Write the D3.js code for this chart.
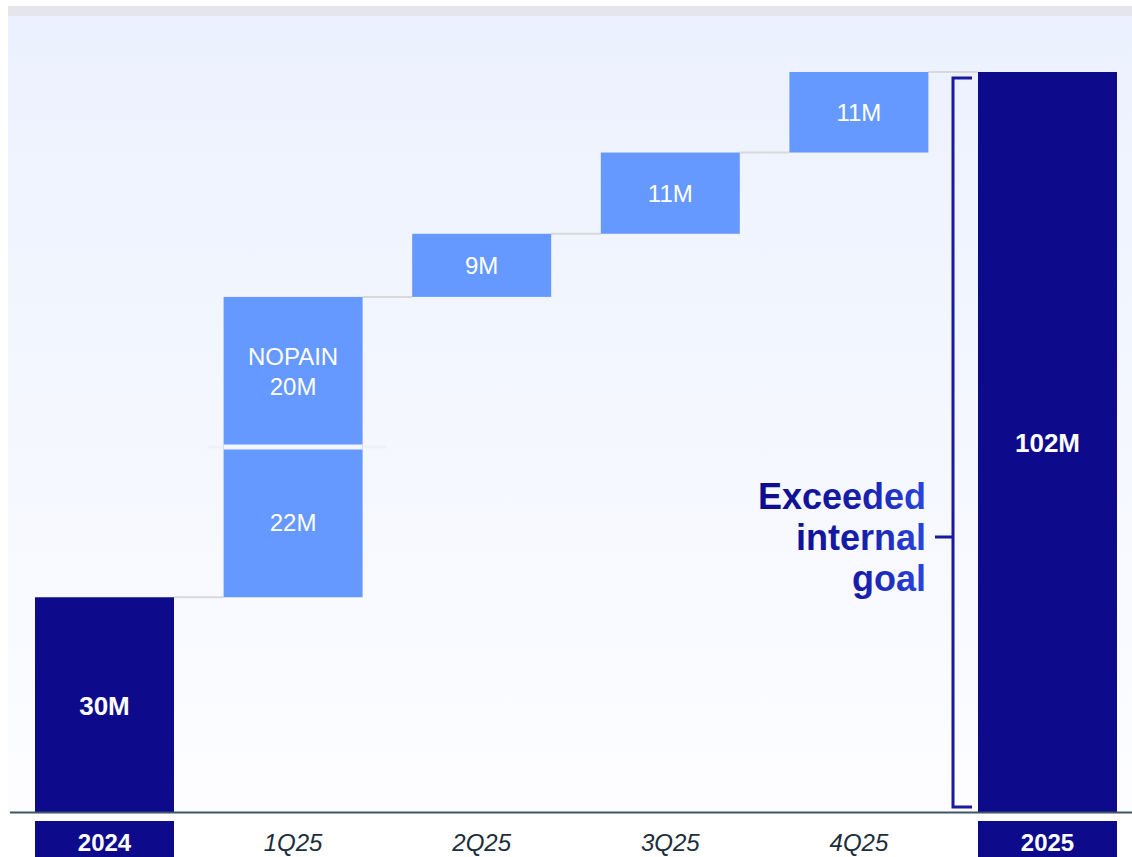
<!DOCTYPE html>
<html>
<head>
<meta charset="utf-8">
<script src="https://cdn.jsdelivr.net/npm/d3@7"></script>
<style>
  html, body { margin: 0; padding: 0; background: #fff; }
  svg { display: block; font-family: Arial, "Liberation Sans", sans-serif; }
</style>
</head>
<body>
<svg id="chart" width="1132" height="857"></svg>
<script>
(function() {
  'use strict';

  // 데이터
  const categories = ['2024', '1Q25', '2Q25', '3Q25', '4Q25', '2025'];
  const totalCats = ['2024', '2025'];
  // 단계별 증가분 (그림에서 읽은 높이 기준)
  const stepCats = ['1Q25', '1Q25', '2Q25', '3Q25', '4Q25'];
  const stepValues = [20.7, 20.7, 8.7, 11.2, 11.1];
  const stepLabels = [['22M'], ['NOPAIN', '20M'], ['9M'], ['11M'], ['11M']];
  const totalValues = [29.6, 102];
  const totalLabels = ['30M', '102M'];
  const noteLines = ['Exceeded', 'internal', 'goal'];

  const W = 1132, H = 857;
  const baseY = 812;
  const navy = '#0d0b8c';
  const light = '#6699ff';

  const svg = d3.select('#chart');

  // 배경 그라데이션
  const defs = svg.append('defs');
  const bg = defs.append('linearGradient').attr('id', 'bg')
    .attr('x1', 0).attr('y1', 0).attr('x2', 0).attr('y2', 1);
  bg.append('stop').attr('offset', '0%').attr('stop-color', '#ebf1fe');
  bg.append('stop').attr('offset', '100%').attr('stop-color', '#fdfdff');

  const tg = defs.append('linearGradient').attr('id', 'txt')
    .attr('x1', 0).attr('y1', 0).attr('x2', 1).attr('y2', 0);
  tg.append('stop').attr('offset', '0%').attr('stop-color', '#0d0b8c');
  tg.append('stop').attr('offset', '60%').attr('stop-color', '#161ea8');
  tg.append('stop').attr('offset', '100%').attr('stop-color', '#2a46de');

  svg.append('rect').attr('x', 8).attr('y', 6).attr('width', W - 8).attr('height', 10)
    .attr('fill', '#e5e5ec');
  svg.append('rect').attr('x', 8).attr('y', 16).attr('width', W - 8).attr('height', baseY - 16)
    .attr('fill', 'url(#bg)');

  // 스케일
  const x = d3.scaleBand().domain(categories).range([35, 1117])
    .paddingInner(0.263).paddingOuter(0);
  const y = d3.scaleLinear().domain([0, 102]).range([baseY, 72]);

  // 누적 계산
  let acc = totalValues[0];
  const steps = stepValues.map((v, i) => {
    const s = { cat: stepCats[i], start: acc, end: acc + v, label: stepLabels[i] };
    acc += v;
    return s;
  });

  // 연결선
  const connectors = [];
  connectors.push({ from: '2024', to: steps[0].cat, v: steps[0].start });
  steps.forEach((s, i) => {
    const next = i < steps.length - 1 ? steps[i + 1] : null;
    if (next && next.cat === s.cat) return;
    connectors.push({ from: s.cat, to: next ? next.cat : '2025', v: s.end });
  });
  svg.selectAll('.conn').data(connectors).enter().append('line')
    .attr('x1', d => x(d.from) + x.bandwidth())
    .attr('x2', d => x(d.to))
    .attr('y1', d => y(d.v)).attr('y2', d => y(d.v))
    .attr('stroke', '#d9d9d9').attr('stroke-width', 2);

  // 1Q25 분리선 (바깥쪽은 희미하게)
  const splitY = y(steps[0].end);
  svg.append('line')
    .attr('x1', x('1Q25') - 16).attr('x2', x('1Q25') + x.bandwidth() + 24)
    .attr('y1', splitY).attr('y2', splitY)
    .attr('stroke', '#eff1f6').attr('stroke-width', 3);

  // 증가 막대
  svg.selectAll('.step').data(steps).enter().append('rect')
    .attr('x', d => x(d.cat))
    .attr('y', d => y(d.end))
    .attr('width', x.bandwidth())
    .attr('height', d => y(d.start) - y(d.end))
    .attr('fill', light);

  svg.append('line')
    .attr('x1', x('1Q25')).attr('x2', x('1Q25') + x.bandwidth())
    .attr('y1', splitY).attr('y2', splitY)
    .attr('stroke', '#f2f6ff').attr('stroke-width', 5);

  // 합계 막대
  svg.selectAll('.total').data(totalCats).enter().append('rect')
    .attr('x', d => x(d))
    .attr('y', (d, i) => y(totalValues[i]))
    .attr('width', x.bandwidth())
    .attr('height', (d, i) => baseY - y(totalValues[i]))
    .attr('fill', navy);

  // 막대 라벨
  steps.forEach(s => {
    const cy = (y(s.start) + y(s.end)) / 2;
    const n = s.label.length;
    s.label.forEach((t, j) => {
      svg.append('text')
        .attr('x', x(s.cat) + x.bandwidth() / 2)
        .attr('y', cy + (j - (n - 1) / 2) * 30)
        .attr('dy', '0.35em')
        .attr('text-anchor', 'middle')
        .attr('font-size', '24px')
        .attr('fill', '#ffffff')
        .text(t);
    });
  });
  totalCats.forEach((c, i) => {
    svg.append('text')
      .attr('x', x(c) + x.bandwidth() / 2)
      .attr('y', (y(totalValues[i]) + baseY) / 2 + 1)
      .attr('dy', '0.35em')
      .attr('text-anchor', 'middle')
      .attr('font-size', '26px')
      .attr('font-weight', 'bold')
      .attr('fill', '#ffffff')
      .text(totalLabels[i]);
  });

  // 기준선
  svg.append('line').attr('x1', 10).attr('x2', W)
    .attr('y1', baseY + 0.5).attr('y2', baseY + 0.5)
    .attr('stroke', '#3e5566').attr('stroke-width', 2);

  // X축 라벨
  const axis = svg.append('g').attr('transform', `translate(0,${baseY})`)
    .call(d3.axisBottom(x).tickSize(0).tickPadding(0));
  axis.select('.domain').remove();
  axis.selectAll('.tick').each(function(d) {
    const g = d3.select(this);
    const isTotal = totalCats.includes(d);
    if (isTotal) {
      g.insert('rect', 'text')
        .attr('x', -x.bandwidth() / 2).attr('y', 9)
        .attr('width', x.bandwidth()).attr('height', H - baseY - 9)
        .attr('fill', navy);
    }
    g.select('text')
      .attr('y', 31).attr('dy', '0.35em')
      .attr('font-family', 'Arial, "Liberation Sans", sans-serif')
      .attr('font-size', '24px')
      .attr('font-weight', isTotal ? 'bold' : 'normal')
      .attr('font-style', isTotal ? 'normal' : 'italic')
      .attr('fill', isTotal ? '#ffffff' : '#1c2e3c');
  });

  // 괄호 주석
  const bx = 953, bTop = y(102) + 6, bBot = baseY - 5, bMid = 537;
  svg.append('path')
    .attr('d', `M${bx + 19},${bTop} H${bx} V${bBot} H${bx + 19} M${bx},${bMid} H${bx - 18}`)
    .attr('fill', 'none').attr('stroke', '#1a1a9c').attr('stroke-width', 3);

  const note = svg.append('text')
    .attr('text-anchor', 'end')
    .attr('font-size', '36px')
    .attr('font-weight', 'bold')
    .attr('fill', 'url(#txt)');
  noteLines.forEach((t, i) => {
    note.append('tspan').attr('x', 926).attr('y', bMid + (i - 1) * 41)
      .attr('dy', '0.35em').text(t);
  });
})();
</script>
</body>
</html>
